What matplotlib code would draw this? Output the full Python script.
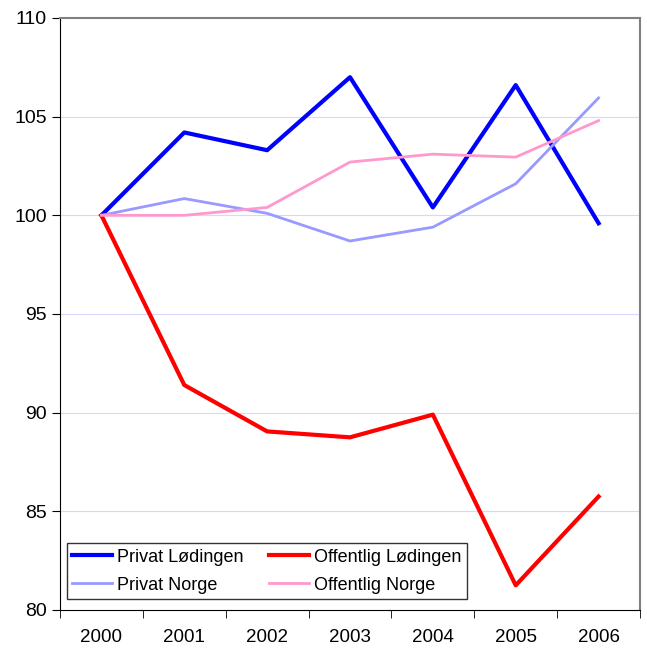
import matplotlib
matplotlib.use("Agg")
from matplotlib import pyplot as plt

plt.rcParams["font.family"] = ["Liberation Sans", "DejaVu Sans"]

years = ["2000", "2001", "2002", "2003", "2004", "2005", "2006"]
privat_lodingen = [100, 104.2, 103.3, 107.0, 100.4, 106.6, 99.6]
offentlig_lodingen = [100, 91.4, 89.05, 88.75, 89.9, 81.25, 85.75]
privat_norge = [100, 100.85, 100.1, 98.7, 99.4, 101.6, 105.95]
offentlig_norge = [100, 100, 100.4, 102.7, 103.1, 102.95, 104.8]

fig = plt.figure(figsize=(6.47, 6.48), dpi=100)
ax = fig.add_axes([60 / 647, 1 - 610 / 648, 580 / 647, 592 / 648])

x = range(len(years))
ax.plot(x, privat_lodingen, color="#0000FF", lw=3, label="Privat Lødingen")
ax.plot(x, privat_norge, color="#9999FF", lw=2, label="Privat Norge")
ax.plot(x, offentlig_lodingen, color="#FF0000", lw=3, label="Offentlig Lødingen")
ax.plot(x, offentlig_norge, color="#FF99CC", lw=2, label="Offentlig Norge")

ax.set_ylim(80, 110)
ax.set_yticks(range(80, 111, 5))
ax.set_xlim(-0.5, 6.5)
ax.set_xticks(x)
ax.set_xticklabels(years)
ax.set_xticks([i - 0.5 for i in range(8)], minor=True)
ax.tick_params(axis="x", which="major", length=0, pad=14, labelsize=13.5)
ax.tick_params(axis="x", which="minor", length=6, direction="out", color="black")
ax.tick_params(axis="y", length=6, direction="out", labelsize=14)

for v in range(85, 110, 5):
    ax.axhline(v, color="#D8D8FF", lw=0.8, zorder=0)

ax.spines["top"].set_color("#808080")
ax.spines["right"].set_color("#808080")
ax.spines["top"].set_linewidth(1.5)
ax.spines["right"].set_linewidth(1.5)
ax.spines["left"].set_color("black")
ax.spines["bottom"].set_color("black")

leg = ax.legend(loc="lower left", bbox_to_anchor=(7 / 580, 11 / 592), ncol=2,
                fontsize=13, frameon=True, fancybox=False, edgecolor="black",
                borderpad=0.3, borderaxespad=0, handlelength=2.2,
                columnspacing=1.4, labelspacing=0.6, handletextpad=0.28)
leg.get_frame().set_linewidth(1)

fig.savefig("out.png", dpi=100)
